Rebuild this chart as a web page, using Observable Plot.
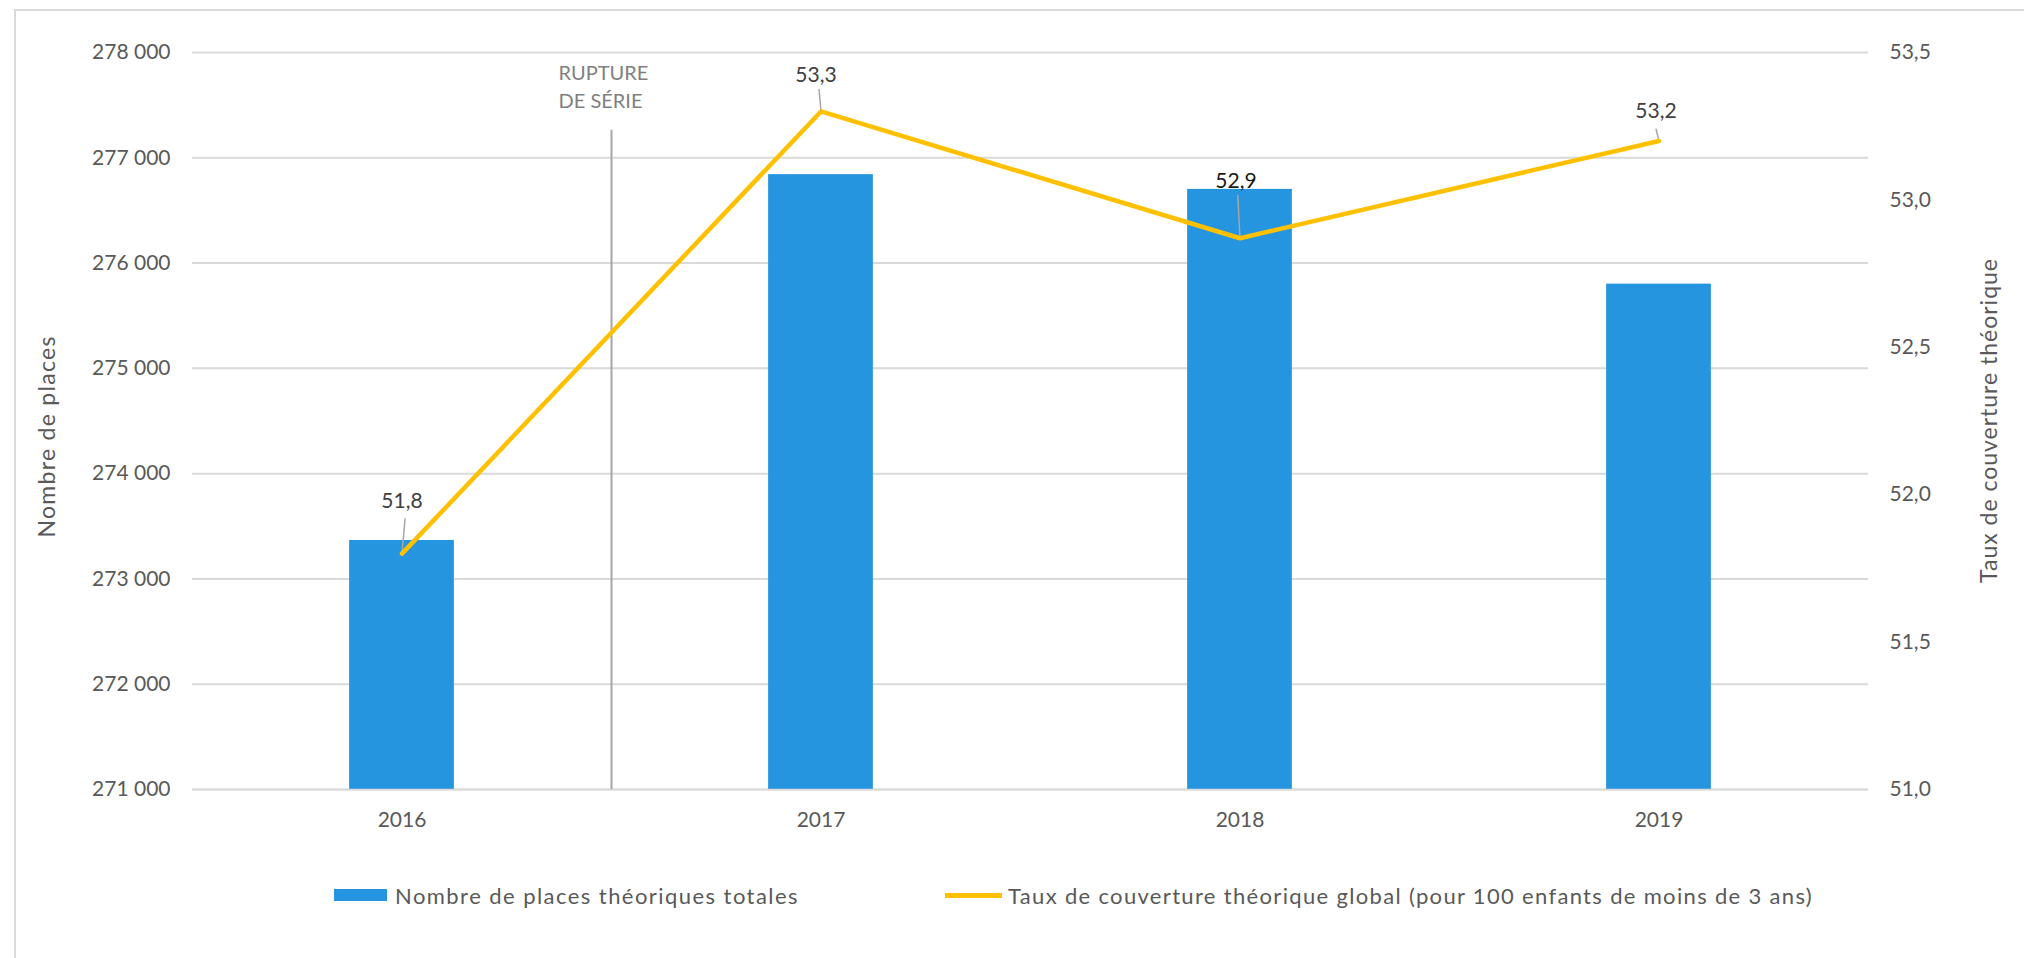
<!DOCTYPE html>
<html><head><meta charset="utf-8">
<script src="https://cdn.jsdelivr.net/npm/d3@7"></script>
<script src="https://cdn.jsdelivr.net/npm/@observablehq/plot@0.6"></script>
<style>
html,body{margin:0;padding:0;background:#fff;width:2024px;height:958px;overflow:hidden;font-family:Lato,sans-serif;}
#frame{position:absolute;left:14px;top:9px;width:2100px;height:1100px;border:2px solid #d9d9d9;box-sizing:border-box;}
#chart{position:absolute;left:0;top:0;}
#legend{position:absolute;left:0;top:0;width:2024px;height:958px;pointer-events:none;}
.sw{position:absolute;}
.lt{position:absolute;font-size:22px;color:#595959;line-height:24px;white-space:nowrap;font-family:Lato,sans-serif;}
</style></head><body>
<div id="frame"></div>
<div id="chart"></div>
<div id="legend"></div>
<script>
// ---- data ----
const years = [2016, 2017, 2018, 2019];
const places = [273365, 276840, 276700, 275800];
const rates = [51.8, 53.3, 52.87, 53.2];
const placesTicks = [271000, 272000, 273000, 274000, 275000, 276000, 277000, 278000];
const rateTicks = [51.0, 51.5, 52.0, 52.5, 53.0, 53.5];
const placesDomain = [271000, 278000];
const rateDomain = [51, 53.5];
const seriesNames = [
  "Nombre de places théoriques totales",
  "Taux de couverture théorique global (pour 100 enfants de moins de 3 ans)"
];
const axisTitleLeft = "Nombre de places";
const axisTitleRight = "Taux de couverture théorique";
const ruptureAt = 2016.5;
const ruptureTop = 277290;
const ruptureLabel = "RUPTURE\nDE SÉRIE";

// ---- styles / label placement (pixels) ----
const labelDx = [0, -5, -4, -3];
const labelDy = [-52, -36, -57, -30];
const labelFill = ["#404040", "#404040", "#1a1a1a", "#404040"];
const leaderLen = [35, 22, 43, 12];
const leaderRot = [5, -5, -3, -14];

const table = years.map((year, i) => ({year, places: places[i], rate: rates[i]}));
const fr = d3.formatLocale({decimal: ",", thousands: " ", grouping: [3], currency: ["", " €"]});
const fmtPlaces = fr.format(",d");
const fmtRate = fr.format(".1f");
const toLeft = d3.scaleLinear().domain(rateDomain).range(placesDomain);

const leaderShape = {draw(context, l) { context.moveTo(0, 0); context.lineTo(0, -l); }};

const chart = Plot.plot({
  width: 2024, height: 860,
  marginLeft: 192, marginRight: 156, marginTop: 52, marginBottom: 71,
  style: {fontFamily: "Lato, sans-serif", fontSize: "21px", color: "#595959", background: "transparent"},
  x: {domain: [2015.5, 2019.5], axis: null},
  y: {domain: placesDomain, axis: null},
  length: {domain: [0, 100], range: [0, 100]},
  marks: [
    Plot.gridY(placesTicks, {stroke: "#d9d9d9", strokeOpacity: 1, strokeWidth: 2}),
    Plot.rectY(table, {x1: d => d.year - 0.125, x2: d => d.year + 0.125, y1: placesDomain[0], y2: "places", fill: "#2695E0"}),
    Plot.ruleY([placesDomain[0]], {stroke: "#d9d9d9", strokeWidth: 2, strokeOpacity: 0.5}),
    Plot.ruleX([ruptureAt], {y1: placesDomain[0], y2: ruptureTop, stroke: "#a6a6a6", strokeWidth: 2, insetBottom: -3}),
    Plot.text([ruptureLabel], {x: ruptureAt, y: ruptureTop, text: d => d, textAnchor: "start", lineAnchor: "bottom", dx: -53, dy: -19, lineHeight: 1.4, fill: "#808080", fontSize: 20}),
    Plot.axisY(placesTicks, {anchor: "left", tickFormat: fmtPlaces, tickSize: 0, tickPadding: 22, label: null}),
    Plot.axisY(rateTicks.map(toLeft), {anchor: "right", tickFormat: d => fmtRate(toLeft.invert(d)), tickSize: 0, tickPadding: 21, label: null}),
    Plot.axisX(years, {anchor: "bottom", tickFormat: d => String(d), tickSize: 0, tickPadding: 23, label: null}),
    Plot.text([axisTitleLeft], {frameAnchor: "left", textAnchor: "middle", rotate: -90, dx: -145, dy: 16, fill: "#595959", fontSize: 23}),
    Plot.text([axisTitleRight], {frameAnchor: "right", textAnchor: "middle", rotate: -90, dx: 121, fill: "#595959", fontSize: 23}),
    Plot.vector(table, {x: "year", y: d => toLeft(d.rate), length: (d, i) => leaderLen[i], rotate: (d, i) => leaderRot[i], anchor: "start", shape: leaderShape, stroke: "#a6a6a6", strokeWidth: 1.5}),
    Plot.line(table, {x: "year", y: d => toLeft(d.rate), stroke: "#FFC000", strokeWidth: 4.5}),
    ...table.map((row, i) => Plot.text([row], {x: "year", y: d => toLeft(d.rate), text: d => fmtRate(d.rate), dx: labelDx[i], dy: labelDy[i], fill: labelFill[i], fontSize: 21}))
  ]
});
document.getElementById("chart").appendChild(chart);

// fit the axis titles to the reference lengths
const titleLengths = new Map([[axisTitleLeft, 201], [axisTitleRight, 324]]);
d3.select(chart).selectAll("text").each(function () {
  const L = titleLengths.get(this.textContent);
  if (L) d3.select(this).attr("textLength", L).attr("lengthAdjust", "spacing");
});

// ---- legend (below the plot) ----
const legend = document.getElementById("legend");
const legendItems = [
  {name: seriesNames[0], color: "#2695E0", sw: {left: 334, top: 889, width: 53, height: 12}, textLeft: 395, textWidth: 404},
  {name: seriesNames[1], color: "#FFC000", sw: {left: 945, top: 893, width: 57, height: 5}, textLeft: 1008, textWidth: 805}
];
for (const it of legendItems) {
  const s = document.createElement("div");
  s.className = "sw";
  Object.assign(s.style, {left: it.sw.left + "px", top: it.sw.top + "px", width: it.sw.width + "px", height: it.sw.height + "px", background: it.color});
  legend.appendChild(s);
  const t = document.createElement("div");
  t.className = "lt";
  t.textContent = it.name;
  Object.assign(t.style, {left: it.textLeft + "px", top: (896 - 12) + "px"});
  legend.appendChild(t);
  const w = t.getBoundingClientRect().width;
  t.style.letterSpacing = ((it.textWidth - w) / it.name.length) + "px";
}
</script>
</body></html>
